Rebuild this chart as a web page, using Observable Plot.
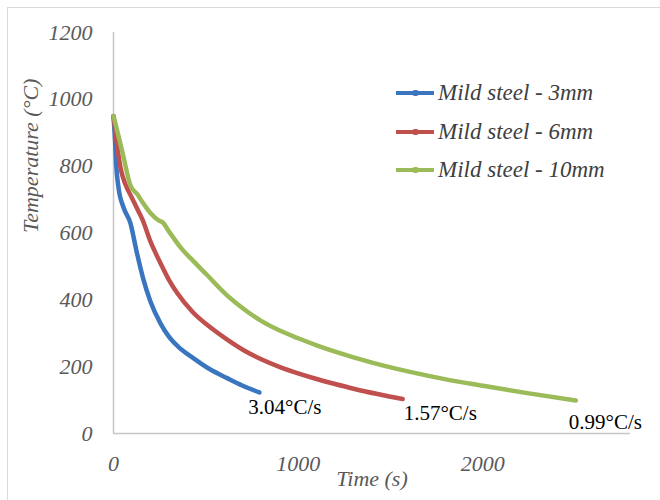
<!DOCTYPE html>
<html>
<head>
<meta charset="utf-8">
<script src="https://cdn.jsdelivr.net/npm/d3@7"></script>
<script src="https://cdn.jsdelivr.net/npm/@observablehq/plot@0.6"></script>
<style>
  body { margin: 0; background: #fff; }
  #wrap { position: relative; width: 660px; height: 500px; overflow: hidden; background: #fff; }
  #border { position: absolute; left: 7px; top: 7px; width: 720px; height: 600px; border: 1.5px solid #d9d9d9; box-sizing: border-box; }
  #chart { position: absolute; left: 0; top: 0; }
  .legend-item { position: absolute; left: 396px; height: 30px; display: flex; align-items: center;
    font-family: "Liberation Serif", "Times New Roman", Times, Tinos, "DejaVu Serif", serif; font-style: italic; font-size: 23px; color: #404040; white-space: nowrap; }
  .swatch { position: relative; width: 38px; height: 3.5px; margin-right: 4px; }
  .swatch .dot { position: absolute; left: 16px; top: -1.5px; width: 6.5px; height: 6.5px; border-radius: 50%; }
</style>
</head>
<body>
<div id="wrap">
  <div id="border"></div>
  <div id="chart"></div>
</div>
<script>
// ---- data ----
const seriesNames = ["Mild steel - 3mm", "Mild steel - 6mm", "Mild steel - 10mm"];
const seriesColors = ["#3A76C0", "#C0504D", "#9BBB59"];
const coolingRates = ["3.04°C/s", "1.57°C/s", "0.99°C/s"];

const time3mm = [0, 8, 15, 27, 54, 92, 125, 160, 200, 255, 300, 350, 434, 520, 618, 700, 790];
const temp3mm = [950, 880, 800, 736, 677, 629, 545, 465, 395, 329, 290, 260, 225, 193, 165, 143, 123];

const time6mm = [0, 20, 40, 65, 100, 135, 157, 200, 255, 300, 347, 430, 526, 610, 705, 800, 905, 1000, 1100, 1200, 1300, 1430, 1566];
const temp6mm = [950, 860, 790, 745, 705, 665, 640, 575, 509, 460, 419, 363, 317, 283, 249, 222, 198, 180, 163, 148, 134, 118, 103];

const time10mm = [0, 25, 50, 92, 130, 157, 200, 244, 266, 300, 363, 434, 500, 618, 700, 800, 900, 1000, 1100, 1200, 1400, 1600, 1800, 2000, 2250, 2504];
const temp10mm = [950, 895, 838, 742, 715, 692, 660, 638, 632, 605, 557, 515, 478, 412, 375, 337, 308, 285, 264, 245, 212, 185, 162, 143, 120, 99];

const xTicks = [0, 1000, 2000];
const yTicks = [0, 200, 400, 600, 800, 1000, 1200];
const xLabel = "Time (s)";
const yLabel = "Temperature (°C)";

const serif = "'Liberation Serif', 'Times New Roman', Times, Tinos, 'DejaVu Serif', serif";

// ---- build table ----
const times = [time3mm, time6mm, time10mm];
const temps = [temp3mm, temp6mm, temp10mm];
const rows = [];
seriesNames.forEach((name, i) => {
  times[i].forEach((t, j) => rows.push({ series: name, t, T: temps[i][j] }));
});
const ends = seriesNames.map((name, i) => ({
  series: name, t: times[i][times[i].length - 1], T: temps[i][temps[i].length - 1], rate: coolingRates[i]
}));

const labelOffsets = [[-11, 15], [1, 14], [-7, 22]];
const rateMarks = ends.map((e, i) => Plot.text([e], {
  x: "t", y: "T", text: "rate", dx: labelOffsets[i][0], dy: labelOffsets[i][1],
  textAnchor: "start", lineAnchor: "middle",
  fill: "#000", fontSize: 21, fontStyle: "normal", fontFamily: serif
}));

const chart = Plot.plot({
  width: 660,
  height: 500,
  marginLeft: 113,
  marginRight: 30,
  marginTop: 32,
  marginBottom: 67,
  style: { fontFamily: serif, fontSize: "22px", fontStyle: "italic", color: "#595959", background: "transparent", overflow: "visible" },
  x: { domain: [0, 2800], ticks: xTicks, tickSize: 0, tickPadding: 22, label: null, tickFormat: d => String(d) },
  y: { domain: [0, 1200], ticks: yTicks, tickSize: 0, tickPadding: 21, label: null, tickFormat: d => String(d) },
  color: { domain: seriesNames, range: seriesColors },
  marks: [
    Plot.ruleX([0], { stroke: "#c6c6c6", strokeWidth: 1.5 }),
    Plot.ruleY([0], { stroke: "#c6c6c6", strokeWidth: 1.5 }),
    Plot.line(rows, { x: "t", y: "T", z: "series", stroke: "series", strokeWidth: 4.5, strokeLinecap: "round", strokeLinejoin: "round", curve: "monotone-x" }),
    ...rateMarks,
    Plot.text([xLabel], { frameAnchor: "bottom", dy: 45, lineAnchor: "middle", fill: "#595959", fontSize: 22, fontStyle: "italic", fontFamily: serif }),
    Plot.text([yLabel], { frameAnchor: "left", dx: -83, rotate: -90, lineAnchor: "middle", fill: "#595959", fontSize: 22, fontStyle: "italic", fontFamily: serif })
  ]
});
document.getElementById("chart").appendChild(chart);

// ---- legend ----
const legendY = [93, 132, 170];
const wrap = document.getElementById("wrap");
seriesNames.forEach((name, i) => {
  const item = document.createElement("div");
  item.className = "legend-item";
  item.style.top = (legendY[i] - 15) + "px";
  item.innerHTML = `<span class="swatch" style="background:${seriesColors[i]}"><span class="dot" style="background:${seriesColors[i]}"></span></span><span>${name}</span>`;
  wrap.appendChild(item);
});
</script>
</body>
</html>
